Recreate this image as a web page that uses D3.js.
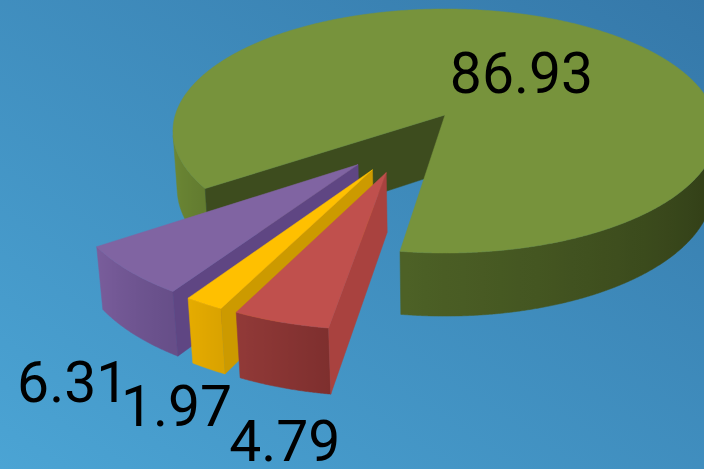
<!DOCTYPE html>
<html><head><meta charset="utf-8">
<script src="https://cdn.jsdelivr.net/npm/d3@7"></script>
<style>html,body{margin:0;padding:0;overflow:hidden;background:#3f8fc2}</style>
</head><body><svg id="c" width="704" height="469"></svg>
<script>
// ---- data ----
const categories = ["Olive", "Red", "Gold", "Purple"];
const values = [86.93, 4.79, 1.97, 6.31];
const valueLabels = ["86.93", "4.79", "1.97", "6.31"];
const topColors = ["#77933c", "#c0504d", "#ffc000", "#8064a2"];
const radialColors = ["#3d4c1e", "#a9423f", "#cc9a00", "#5f4683"];
const sideShadeAngles = [[9, 98, 171], [98, 116], [115, 123], [122, 146]];
const sideShadeColors = [["#2d3915", "#4d6126", "#6e8a35"], ["#7e2f2e", "#923a38"], ["#d9a200", "#e6ac00"], ["#664e88", "#7a5e9c"]];

// ---- layout / camera ----
const W = 704, H = 469;
const cam = {cx: 445, cy: 115, f: 1842, L: 6.83, phi: 26.4 * Math.PI / 180};
const thickness = 0.24, explode = 0.25, startDeg = 145.4;
const labelNudge = [[9, 26], [1, 73], [-32, 57], [-62, 67]];
const rad = Math.PI / 180;
const sP = Math.sin(cam.phi), cP = Math.cos(cam.phi);

const svg = d3.select("#c");
const defs = svg.append("defs");
const bg = defs.append("linearGradient").attr("id", "bg")
  .attr("x1", "100%").attr("y1", "0%").attr("x2", "0%").attr("y2", "100%");
bg.append("stop").attr("offset", "0%").attr("stop-color", "#3578a9");
bg.append("stop").attr("offset", "100%").attr("stop-color", "#4ba4d4");
svg.append("rect").attr("width", W).attr("height", H).attr("fill", "url(#bg)");

const arcs = d3.pie().sort(null).value(d => d)
  .startAngle(startDeg * rad).endAngle(startDeg * rad + 2 * Math.PI)(values);
const bigIdx = d3.maxIndex(values);
const bigMid = (arcs[bigIdx].startAngle + arcs[bigIdx].endAngle) / 2;
const G = [explode * Math.cos(bigMid), explode * Math.sin(bigMid)];

function proj(x, z, y) {
  const X = x - G[0], Z = z - G[1];
  const depth = cam.L - sP * y - cP * Z;
  return [cam.cx + cam.f * X / depth, cam.cy - cam.f * (cP * y - sP * Z) / depth, depth];
}
const camPos = [G[0], G[1] + cam.L * cP];

const line = d3.line().curve(d3.curveLinearClosed);

const slices = arcs.map((a, i) => {
  const mid = (a.startAngle + a.endAngle) / 2;
  const ax = explode * Math.cos(mid), az = explode * Math.sin(mid);
  const dpt = proj(ax + 0.5 * Math.cos(mid), az + 0.5 * Math.sin(mid), 0)[2];
  return {i, a, mid, ax, az, dpt};
});
const order = slices.slice().sort((p, q) => q.dpt - p.dpt);

const g = svg.append("g");
let gid = 0;

order.forEach(sl => {
  const {i, a, ax, az} = sl;
  const a0 = a.startAngle, a1 = a.endAngle;
  const n = Math.max(8, Math.ceil((a1 - a0) / (0.25 * rad)));
  const thetas = d3.range(n + 1).map(k => a0 + (a1 - a0) * k / n);
  const shade = d3.scaleLinear().domain(sideShadeAngles[i]).range(sideShadeColors[i]).clamp(true);
  const gs = g.append("g").attr("class", "slice " + categories[i]);

  // outer curved side: visible runs
  const vis = thetas.map(t => {
    const px = ax + Math.cos(t), pz = az + Math.sin(t);
    return (camPos[0] - px) * Math.cos(t) + (camPos[1] - pz) * Math.sin(t) > 0;
  });
  let runs = [], cur = null;
  thetas.forEach((t, k) => {
    if (vis[k]) { if (!cur) { cur = []; runs.push(cur); } cur.push(t); }
    else cur = null;
  });
  runs.forEach(run => {
    if (run.length < 2) return;
    const topPts = run.map(t => proj(ax + Math.cos(t), az + Math.sin(t), 0));
    const botPts = run.map(t => proj(ax + Math.cos(t), az + Math.sin(t), -thickness));
    const pts = topPts.concat(botPts.slice().reverse()).map(p => [p[0], p[1]]);
    const xs = topPts.map(p => p[0]).concat(botPts.map(p => p[0]));
    const xmin = d3.min(xs), xmax = d3.max(xs);
    const id = "sg" + (gid++);
    const grad = defs.append("linearGradient").attr("id", id).attr("gradientUnits", "userSpaceOnUse")
      .attr("x1", xmin).attr("x2", xmax).attr("y1", 0).attr("y2", 0);
    const step = Math.max(1, Math.floor(run.length / 24));
    const stops = [];
    for (let k = 0; k < run.length; k += step) stops.push(k);
    if (stops[stops.length - 1] !== run.length - 1) stops.push(run.length - 1);
    stops.map(k => {
      const deg = ((run[k] / rad) % 360 + 360) % 360;
      return {o: (topPts[k][0] - xmin) / Math.max(1, xmax - xmin), c: shade(deg)};
    }).sort((p, q) => p.o - q.o).forEach(s => {
      grad.append("stop").attr("offset", Math.max(0, Math.min(1, s.o))).attr("stop-color", s.c);
    });
    gs.append("path").attr("d", line(pts)).attr("fill", "url(#" + id + ")")
      .attr("stroke", "url(#" + id + ")").attr("stroke-width", 0.5);
  });

  // radial faces
  const faces = [
    {t: a0, nx: Math.sin(a0), nz: -Math.cos(a0)},
    {t: a1, nx: -Math.sin(a1), nz: Math.cos(a1)}
  ];
  faces.forEach(fc => {
    const mx = ax + 0.5 * Math.cos(fc.t), mz = az + 0.5 * Math.sin(fc.t);
    if ((camPos[0] - mx) * fc.nx + (camPos[1] - mz) * fc.nz <= 0) return;
    const rx = ax + Math.cos(fc.t), rz = az + Math.sin(fc.t);
    const pts = [proj(ax, az, 0), proj(rx, rz, 0), proj(rx, rz, -thickness), proj(ax, az, -thickness)]
      .map(p => [p[0], p[1]]);
    gs.append("path").attr("d", line(pts)).attr("fill", radialColors[i])
      .attr("stroke", radialColors[i]).attr("stroke-width", 0.5);
  });

  // top face
  const topPts = [[ax, az]].concat(thetas.map(t => [ax + Math.cos(t), az + Math.sin(t)]))
    .map(p => { const q = proj(p[0], p[1], 0); return [q[0], q[1]]; });
  gs.append("path").attr("d", line(topPts)).attr("fill", topColors[i])
    .attr("stroke", topColors[i]).attr("stroke-width", 0.5);
});

// labels
slices.forEach(sl => {
  const {i, mid, ax, az} = sl;
  let p;
  if (i === bigIdx) p = proj(ax + 0.5 * Math.cos(mid), az + 0.5 * Math.sin(mid), 0);
  else p = proj(ax + Math.cos(mid), az + Math.sin(mid), -thickness);
  svg.append("text")
    .attr("x", p[0] + labelNudge[i][0]).attr("y", p[1] + labelNudge[i][1])
    .attr("text-anchor", "middle")
    .attr("font-family", "Roboto, 'Liberation Sans', sans-serif")
    .attr("font-size", 57).attr("fill", "#000")
    .text(valueLabels[i]);
});
</script></body></html>
